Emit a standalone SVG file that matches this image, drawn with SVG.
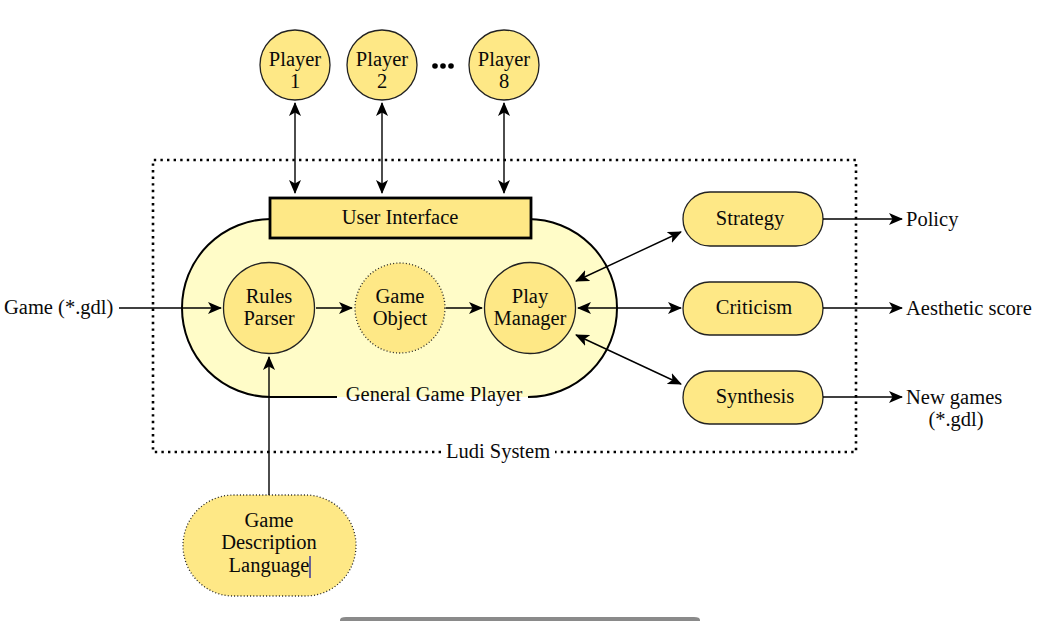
<svg xmlns="http://www.w3.org/2000/svg" width="1059" height="621" viewBox="0 0 1059 621">
<style>
text{font-family:'Liberation Serif','DejaVu Serif','Noto Serif',serif;font-size:20.5px;fill:#0a0a0a;}
.c{text-anchor:middle;}
.node{fill:#FEE886;stroke:#222;stroke-width:1.3;}
.dot{fill:#FEE886;stroke:#222;stroke-width:1.3;stroke-dasharray:1 2.2;}
.conn{stroke:#000;stroke-width:1.4;fill:none;}
</style>
<defs>
<marker id="ah" viewBox="0 0 14 12" refX="13" refY="6" markerWidth="14" markerHeight="12" markerUnits="userSpaceOnUse" orient="auto-start-reverse">
<path d="M0,0 L14,6 L0,12 L3.5,6 z" fill="#000"/>
</marker>
</defs>
<rect width="1059" height="621" fill="#fff"/>

<g font-family="Liberation Serif, DejaVu Serif, serif">
<g id="ludi-system">
<path d="M441,452 H153 V160 H856 V452 H555" fill="none" stroke="#000" stroke-width="2.6" stroke-dasharray="2.4 4.2"/>
<text class="c" x="498" y="458">Ludi System</text>
</g>

<g id="general-game-player">
<rect x="182" y="219" width="435" height="178" rx="89" ry="89" fill="#FFFCC8"/>
<path d="M337,397 H271 A89,89 0 0 1 271,219 H528 A89,89 0 0 1 528,397 H530" fill="none" stroke="#000" stroke-width="2"/>
<text class="c" x="434" y="401">General Game Player</text>
</g>

<g id="user-interface">
<rect x="270" y="198" width="261" height="40" fill="#FEE886" stroke="#000" stroke-width="2.8"/>
<text class="c" x="400" y="224">User Interface</text>
</g>

<g id="player-1">
<circle class="node" cx="295" cy="65" r="35"/>
<text class="c" x="295" y="66">Player</text>
<text class="c" x="295" y="88">1</text>
</g>
<g id="player-2">
<circle class="node" cx="382" cy="65" r="35"/>
<text class="c" x="382" y="66">Player</text>
<text class="c" x="382" y="88">2</text>
</g>
<g id="ellipsis">
<circle cx="435" cy="66" r="2.8" fill="#000"/>
<circle cx="443" cy="66" r="2.8" fill="#000"/>
<circle cx="451" cy="66" r="2.8" fill="#000"/>
</g>
<g id="player-8">
<circle class="node" cx="504" cy="65" r="35"/>
<text class="c" x="504" y="66">Player</text>
<text class="c" x="504" y="88">8</text>
</g>

<g id="rules-parser">
<circle class="node" cx="269" cy="308" r="45.5"/>
<text class="c" x="269" y="303">Rules</text>
<text class="c" x="269" y="325">Parser</text>
</g>
<g id="game-object">
<circle class="dot" cx="400" cy="308" r="45"/>
<text class="c" x="400" y="303">Game</text>
<text class="c" x="400" y="325">Object</text>
</g>
<g id="play-manager">
<circle class="node" cx="530" cy="308" r="45.5"/>
<text class="c" x="530" y="303">Play</text>
<text class="c" x="530" y="325">Manager</text>
</g>

<g id="strategy">
<rect class="node" x="683" y="192" width="140" height="54" rx="27"/>
<text class="c" x="750" y="225">Strategy</text>
</g>
<g id="criticism">
<rect class="node" x="683" y="282" width="140" height="53" rx="26.5"/>
<text class="c" x="754" y="314">Criticism</text>
</g>
<g id="synthesis">
<rect class="node" x="683" y="371" width="140" height="53" rx="26.5"/>
<text class="c" x="755" y="403">Synthesis</text>
</g>

<g id="game-description-language">
<rect class="dot" x="183" y="495" width="173" height="101" rx="50.5"/>
<text class="c" x="269" y="527">Game</text>
<text class="c" x="269" y="549">Description</text>
<text class="c" x="269" y="572">Language</text>
<line x1="310" y1="556" x2="310" y2="578" stroke="#1a1aa0" stroke-width="1.3"/>
</g>

<g id="labels">
<text x="4" y="314">Game (*.gdl)</text>
<text x="906" y="226">Policy</text>
<text x="906" y="315">Aesthetic score</text>
<text x="906" y="404">New games</text>
<text class="c" x="956" y="426">(*.gdl)</text>
</g>
</g>

<g id="connectors" class="conn">
<line x1="295" y1="103" x2="295" y2="193" marker-start="url(#ah)" marker-end="url(#ah)"/>
<line x1="382" y1="103" x2="382" y2="193" marker-start="url(#ah)" marker-end="url(#ah)"/>
<line x1="504" y1="103" x2="504" y2="193" marker-start="url(#ah)" marker-end="url(#ah)"/>
<line x1="119" y1="308" x2="221" y2="308" marker-end="url(#ah)"/>
<line x1="316" y1="308" x2="352" y2="308" marker-end="url(#ah)"/>
<line x1="446" y1="308" x2="482" y2="308" marker-end="url(#ah)"/>
<line x1="269" y1="495" x2="269" y2="357" marker-end="url(#ah)"/>
<line x1="576" y1="281" x2="681" y2="232" marker-start="url(#ah)" marker-end="url(#ah)"/>
<line x1="578" y1="308" x2="681" y2="308" marker-start="url(#ah)" marker-end="url(#ah)"/>
<line x1="576" y1="335" x2="681" y2="384" marker-start="url(#ah)" marker-end="url(#ah)"/>
<line x1="823" y1="219" x2="902" y2="219" marker-end="url(#ah)"/>
<line x1="823" y1="308" x2="902" y2="308" marker-end="url(#ah)"/>
<line x1="823" y1="397" x2="902" y2="397" marker-end="url(#ah)"/>
</g>

<path id="scrollbar" d="M340,621 V620 Q340,617 346,617 H694 Q700,617 700,620 V621 Z" fill="#8a8a8a"/>
</svg>
